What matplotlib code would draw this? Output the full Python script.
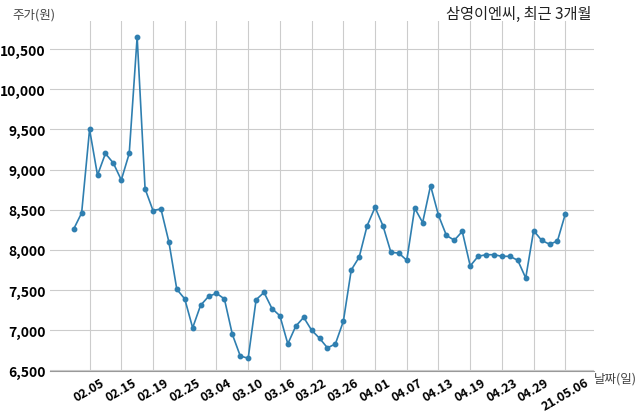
import matplotlib
matplotlib.use("Agg")
import matplotlib.pyplot as plt
from matplotlib.ticker import FuncFormatter

plt.rcParams['font.family'] = ['Noto Sans CJK KR', 'DejaVu Sans']

prices = [8260, 8460, 9500, 8930, 9200, 9080, 8870, 9200, 10650, 8760,
          8490, 8510, 8100, 7510, 7390, 7030, 7310, 7420, 7460, 7390,
          6950, 6680, 6650, 7380, 7470, 7270, 7180, 6830, 7050, 7160,
          7000, 6900, 6780, 6830, 7110, 7750, 7910, 8300, 8530, 8300,
          7970, 7960, 7870, 8520, 8340, 8800, 8430, 8180, 8120, 8230,
          7800, 7920, 7940, 7940, 7920, 7920, 7870, 7650, 8240, 8120,
          8070, 8110, 8450]
tick_labels = ['02.05', '02.15', '02.19', '02.25', '03.04', '03.10', '03.16', '03.22',
               '03.26', '04.01', '04.07', '04.13', '04.19', '04.23', '04.29', '21.05.06']
y_ticks = [6500, 7000, 7500, 8000, 8500, 9000, 9500, 10000, 10500]

fig = plt.figure(figsize=(6.4, 4.14), dpi=100)
ax = fig.add_axes([0.078, 0.101, 0.85, 0.846])
x = list(range(len(prices)))
ax.plot(x, prices, color='#2f7fb0', marker='o', markersize=3.2, linewidth=1.2)
ax.set_xlim(-3, 65.6)
ax.set_ylim(6490, 10850)
ax.set_xticks([2 + 4 * i for i in range(len(tick_labels))])
ax.set_xticklabels(tick_labels, rotation=30, fontweight='bold', fontsize=9)
ax.set_yticks(y_ticks)
ax.yaxis.set_major_formatter(FuncFormatter(lambda v, p: f'{int(v):,}'))
for l in ax.get_yticklabels():
    l.set_fontweight('bold'); l.set_fontsize(10)
ax.grid(True, color='#cccccc', linewidth=0.8)
ax.set_axisbelow(True)
for s in ['top', 'right', 'left']:
    ax.spines[s].set_visible(False)
ax.spines['bottom'].set_color('#999999')
ax.tick_params(length=0, pad=3)
fig.text(0.02, 0.955, '주가(원)', fontsize=9, color='#444444')
fig.text(0.928, 0.075, '날짜(일)', fontsize=9, color='#444444')
fig.text(0.925, 0.955, '삼영이엔씨, 최근 3개월', fontsize=11, ha='right', color='#222222')
fig.savefig('out.png', dpi=100)
